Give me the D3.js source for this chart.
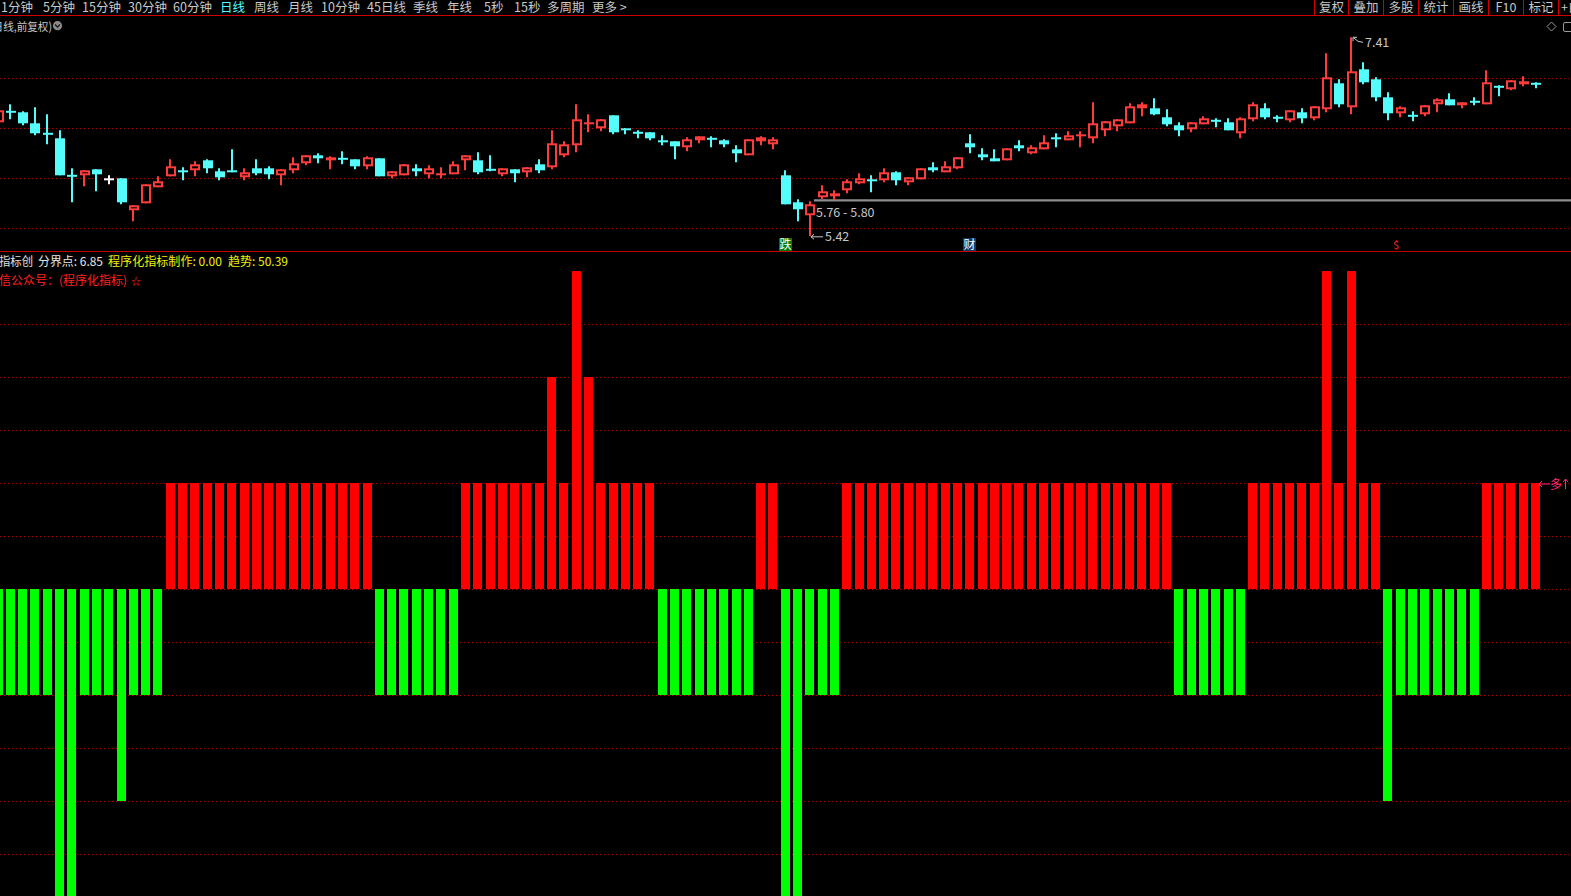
<!DOCTYPE html>
<html><head><meta charset="utf-8">
<script src="https://cdn.jsdelivr.net/npm/d3@7"></script>
<style>
html,body{margin:0;padding:0;background:#000;overflow:hidden}
svg{display:block}
text{font-family:"Noto Sans CJK SC","Noto Sans",sans-serif}
</style></head><body>
<svg id="c" width="1571" height="896"></svg>
<script>
// ---------- data ----------
const opens=[6.56,6.67,6.66,6.55,6.45,6.40,6.03,6.03,6.09,5.99,
6.00,5.68,5.75,5.91,6.02,6.08,6.08,6.18,6.07,6.08,
6.01,6.10,6.10,6.03,6.08,6.15,6.23,6.18,6.20,6.19,
6.12,6.20,6.02,6.03,6.10,6.04,6.03,6.04,6.18,6.18,
6.09,6.04,6.09,6.06,6.14,6.11,6.23,6.33,6.54,6.50,
6.63,6.50,6.46,6.46,6.38,6.37,6.31,6.38,6.40,6.38,
6.29,6.23,6.37,6.34,6.03,5.76,5.63,5.81,5.82,5.88,
5.95,5.99,5.98,6.06,5.96,5.99,6.11,6.06,6.10,6.35,
6.24,6.20,6.18,6.33,6.25,6.29,6.41,6.38,6.42,6.40,
6.48,6.52,6.55,6.70,6.70,6.61,6.53,6.49,6.54,6.58,
6.56,6.45,6.59,6.70,6.61,6.58,6.66,6.60,6.69,6.95,
6.71,7.09,6.99,6.81,6.65,6.63,6.64,6.74,6.79,6.73,
6.77,6.74,6.92,6.89,6.94,6.95];
const highs=[6.70,6.74,6.67,6.71,6.64,6.48,6.10,6.08,6.09,6.03,
6.00,5.73,5.94,6.02,6.19,6.11,6.17,6.19,6.10,6.29,
6.10,6.19,6.12,6.09,6.21,6.23,6.25,6.22,6.27,6.19,
6.22,6.20,6.07,6.14,6.14,6.13,6.11,6.17,6.23,6.26,
6.23,6.10,6.09,6.11,6.19,6.48,6.37,6.74,6.64,6.59,
6.63,6.50,6.48,6.46,6.43,6.37,6.41,6.42,6.42,6.39,
6.33,6.39,6.42,6.41,6.08,5.79,5.77,5.93,5.88,5.99,
6.05,6.03,6.10,6.07,6.01,6.10,6.16,6.17,6.21,6.44,
6.30,6.29,6.30,6.38,6.33,6.43,6.45,6.47,6.47,6.76,
6.57,6.59,6.75,6.76,6.80,6.69,6.56,6.56,6.62,6.60,
6.60,6.61,6.76,6.75,6.63,6.68,6.70,6.72,7.25,6.99,
7.41,7.16,7.01,6.86,6.72,6.67,6.73,6.80,6.85,6.76,
6.81,7.08,6.93,6.98,7.02,6.96];
const lows=[6.54,6.59,6.53,6.43,6.34,6.03,5.76,5.92,5.87,5.94,
5.74,5.57,5.75,5.91,6.02,5.98,6.02,6.05,5.98,6.06,
5.98,6.03,5.99,5.93,6.05,6.13,6.15,6.09,6.14,6.09,
6.09,6.02,6.00,6.03,6.02,6.00,6.00,6.04,6.08,6.04,
6.07,6.02,5.96,6.01,6.05,6.09,6.21,6.26,6.46,6.47,
6.44,6.44,6.40,6.38,6.33,6.19,6.27,6.35,6.31,6.31,
6.16,6.23,6.33,6.29,5.74,5.57,5.42,5.79,5.78,5.85,
5.94,5.86,5.96,5.93,5.93,5.99,6.06,6.06,6.09,6.25,
6.18,6.17,6.18,6.27,6.24,6.29,6.31,6.38,6.31,6.35,
6.42,6.47,6.55,6.62,6.63,6.52,6.42,6.46,6.54,6.51,
6.48,6.40,6.57,6.59,6.56,6.56,6.55,6.58,6.66,6.71,
6.64,6.94,6.77,6.58,6.61,6.57,6.62,6.66,6.73,6.70,
6.73,6.74,6.82,6.88,6.92,6.90];
const closes=[6.68,6.66,6.55,6.45,6.44,6.03,6.02,6.08,6.04,5.99,
5.76,5.73,5.94,5.97,6.12,6.06,6.14,6.10,6.01,6.06,
6.06,6.05,6.04,6.09,6.15,6.23,6.20,6.21,6.19,6.12,
6.21,6.02,6.07,6.14,6.07,6.10,6.05,6.14,6.23,6.06,
6.08,6.10,6.05,6.11,6.08,6.35,6.34,6.59,6.56,6.59,
6.46,6.48,6.45,6.40,6.36,6.32,6.39,6.42,6.39,6.34,
6.25,6.39,6.41,6.39,5.74,5.69,5.74,5.87,5.85,5.97,
6.00,5.97,6.06,5.98,6.01,6.10,6.08,6.12,6.21,6.31,
6.21,6.17,6.30,6.30,6.31,6.36,6.39,6.43,6.44,6.55,
6.57,6.59,6.72,6.74,6.64,6.54,6.48,6.56,6.60,6.57,
6.48,6.60,6.74,6.61,6.60,6.68,6.60,6.72,7.01,6.74,
7.07,6.96,6.81,6.65,6.71,6.62,6.73,6.79,6.73,6.76,
6.76,6.96,6.91,6.98,6.97,6.94];
const signal=[-1,-1,-1,-1,-1,-3,-3,-1,-1,-1,
-2,-1,-1,-1,1,1,1,1,1,1,
1,1,1,1,1,1,1,1,1,1,
1,-1,-1,-1,-1,-1,-1,-1,1,1,
1,1,1,1,1,2,1,3,2,1,
1,1,1,1,-1,-1,-1,-1,-1,-1,
-1,-1,1,1,-3,-3,-1,-1,-1,1,
1,1,1,1,1,1,1,1,1,1,
1,1,1,1,1,1,1,1,1,1,
1,1,1,1,1,1,-1,-1,-1,-1,
-1,-1,1,1,1,1,1,1,3,1,
3,1,1,-2,-1,-1,-1,-1,-1,-1,
-1,1,1,1,1,1];
const priceGrid=[5.5,6.0,6.5,7.0];
const signalGrid=[-2.5,-2,-1.5,-1,-0.5,0,0.5,1,1.5,2,2.5];
const menuLabels=["1分钟","5分钟","15分钟","30分钟","60分钟","日线","周线","月线","10分钟","45日线","季线","年线","5秒","15秒","多周期","更多 >"];
const activeMenu="日线";
const toolLabels=["复权","叠加","多股","统计","画线","F10","标记","+自"];
const titleText="(日线,前复权)";
const indName="指标创";
const indItems=[["分界点: ","6.85"],["程序化指标制作: ","0.00"],["趋势: ","50.39"]];
const noteText="信公众号：(程序化指标)";
const supportLow=5.76, supportHigh=5.80, supportLine=5.78;
const minIdx=66, maxIdx=110;
const eventMarks=[{i:64,t:"跌"},{i:79,t:"财"}];

// ---------- layout ----------
const W=1571,H=896;
const menuX=[1,43,82,128,173,220,254,288,321,367,413,447,484,514,547,592];
const toolSep=[1314,1348,1383,1418,1453,1488,1523,1558];
const indX=[38,108,228], indW=[65,114,60];
const RED="#ff3c3c",CYAN="#54fcfc",GRID="#b00000";

const svg=d3.select("#c");
svg.append("rect").attr("width",W).attr("height",H).attr("fill","#000");
const N=opens.length;
const x=d3.scaleLinear().domain([0,N-1]).range([-2,1535.5]);
const yP=d3.scaleLinear().domain([5.5,7.0]).range([228.3,78.3]);
const yI=d3.scaleLinear().domain([0,1]).range([589.3,483.3]);

// ---------- toolbar ----------
const tb=svg.append("g").attr("font-size",12.5);
tb.selectAll("text.m").data(menuLabels).join("text").attr("class","m")
 .attr("x",(d,i)=>menuX[i]).attr("y",12.2)
 .attr("fill",d=>d===activeMenu?CYAN:"#c8c8c8").text(d=>d);
tb.selectAll("line.s").data(toolSep).join("line").attr("class","s")
 .attr("x1",d=>d+0.5).attr("x2",d=>d+0.5).attr("y1",0).attr("y2",15)
 .attr("stroke","#d00000").attr("stroke-width",1);
tb.selectAll("text.t").data(toolLabels).join("text").attr("class","t")
 .attr("x",(d,i)=>i<toolSep.length-1?(toolSep[i]+toolSep[i+1])/2+0.5:toolSep[i]+3)
 .attr("text-anchor",(d,i)=>i<toolSep.length-1?"middle":"start")
 .attr("y",12.2).attr("fill","#c8c8c8").text(d=>d);
svg.append("line").attr("x1",0).attr("x2",W).attr("y1",15.5).attr("y2",15.5)
 .attr("stroke","#d00000").attr("stroke-width",1);

// title row
svg.append("text").attr("x",-11).attr("y",30.5)
 .attr("font-size",11.5).attr("fill","#c8c8c8")
 .attr("textLength",63).attr("lengthAdjust","spacingAndGlyphs").text(titleText);
svg.append("circle").attr("cx",57.5).attr("cy",25.7).attr("r",4.6).attr("fill","#8a8a8a");
svg.append("path").attr("d","M55,24.5 L57.5,27 L60,24.5").attr("fill","none").attr("stroke","#1a1a1a").attr("stroke-width",1.3);
svg.append("path").attr("d","M1551.5,22 L1556,26.5 L1551.5,31 L1547,26.5 Z").attr("fill","none").attr("stroke","#9a9a9a");
svg.append("rect").attr("x",1563.5).attr("y",22.5).attr("width",9).attr("height",9).attr("rx",1.5)
 .attr("fill","none").attr("stroke","#9a9a9a");

// ---------- grids ----------
svg.append("g").selectAll("line").data(priceGrid).join("line")
 .attr("x1",0).attr("x2",W).attr("y1",d=>Math.round(yP(d))+0.5).attr("y2",d=>Math.round(yP(d))+0.5)
 .attr("stroke",GRID).attr("stroke-dasharray","1,3");
svg.append("g").selectAll("line").data(signalGrid).join("line")
 .attr("x1",0).attr("x2",W).attr("y1",d=>Math.round(yI(d))+0.5).attr("y2",d=>Math.round(yI(d))+0.5)
 .attr("stroke",GRID).attr("stroke-dasharray","1,3");

// separator
svg.append("line").attr("x1",0).attr("x2",W).attr("y1",251.5).attr("y2",251.5)
 .attr("stroke","#c80000").attr("stroke-width",1);

// ---------- support line ----------
svg.append("line").attr("x1",Math.round(x(minIdx))+4).attr("x2",W)
 .attr("y1",yP(supportLine)).attr("y2",yP(supportLine))
 .attr("stroke","#8c8c8c").attr("stroke-width",2.2);

// ---------- candles ----------
const cdata=d3.range(N).map(i=>({i,o:opens[i],h:highs[i],l:lows[i],c:closes[i]}));
const cg=svg.append("g");
cdata.forEach(d=>{
  const col=d.c>d.o?RED:(d.c<d.o?CYAN:"#ffffff");
  const cx=Math.round(x(d.i));
  const bx=Math.round(x(d.i)-4.5);
  cg.append("line").attr("x1",cx).attr("x2",cx).attr("y1",yP(d.h)).attr("y2",yP(d.l))
    .attr("stroke",col).attr("stroke-width",2);
  const top=yP(Math.max(d.o,d.c)), bot=yP(Math.min(d.o,d.c));
  const hgt=bot-top;
  if(d.c>d.o && hgt>4){
    cg.append("rect").attr("x",bx+1).attr("y",top+1).attr("width",8).attr("height",hgt-2)
      .attr("fill","#000").attr("stroke",col).attr("stroke-width",2);
  } else {
    const hh=Math.max(2,hgt);
    cg.append("rect").attr("x",bx).attr("y",hgt<2?(top+bot)/2-1:top).attr("width",10).attr("height",hh)
      .attr("fill",col);
  }
});

// ---------- price annotations ----------
const ann=svg.append("g").attr("fill","#c8c8c8").attr("font-size",12.5);
ann.append("text").attr("x",Math.round(x(minIdx))+6).attr("y",yP(supportLine)+16.5)
 .text(supportLow.toFixed(2)+" - "+supportHigh.toFixed(2));
const mx=Math.round(x(minIdx))+1, my=yP(lows[minIdx]);
ann.append("path").attr("d",`M${mx+12},${my+0.5} L${mx},${my+0.5} M${mx+3},${my-2} L${mx},${my+0.5} L${mx+3},${my+3}`)
 .attr("stroke","#c8c8c8").attr("fill","none");
ann.append("text").attr("x",mx+14).attr("y",my+5).text(lows[minIdx].toFixed(2));
const hx=Math.round(x(maxIdx))+1, hy=yP(highs[maxIdx]);
ann.append("path").attr("d",`M${hx+1},${hy} L${hx+1},${hy+4} M${hx+1},${hy} L${hx+5},${hy} M${hx+1},${hy} L${hx+6},${hy+4} L${hx+11},${hy+5}`)
 .attr("stroke","#c8c8c8").attr("fill","none");
ann.append("text").attr("x",hx+13).attr("y",hy+10).text(highs[maxIdx].toFixed(2));

// event markers
eventMarks.forEach(e=>{
  const ex=x(e.i);
  svg.append("rect").attr("x",Math.round(ex-6.5)).attr("y",238).attr("width",13).attr("height",13)
   .attr("fill",e.t==="跌"?"#007a00":"#0b3c6e");
  svg.append("text").attr("x",Math.round(ex-6.5)+6.5).attr("y",249).attr("text-anchor","middle")
   .attr("font-size",12).attr("fill","#ffffff").text(e.t);
});
svg.append("text").attr("x",1396).attr("y",249).attr("text-anchor","middle").attr("font-size",11)
 .attr("fill","#ff2020").text("$");

// ---------- indicator header ----------
const ih=svg.append("g").attr("font-size",12);
ih.append("text").attr("x",-1).attr("y",266).attr("fill","#e0e0e0")
 .attr("textLength",34).attr("lengthAdjust","spacingAndGlyphs").text(indName);
indItems.forEach((it,k)=>{
  ih.append("text").attr("x",indX[k]).attr("y",266).attr("fill",k===0?"#e6e6e6":"#f0f000")
   .attr("textLength",indW[k]).attr("lengthAdjust","spacingAndGlyphs").text(it[0]+it[1]);
});
ih.append("text").attr("x",-1).attr("y",285).attr("fill","#ff2020")
 .attr("textLength",128).attr("lengthAdjust","spacingAndGlyphs").text(noteText);
ih.append("text").attr("x",131).attr("y",284.5).attr("font-size",10).attr("fill","#ff2020").text("☆");

// ---------- indicator bars ----------
const y0=Math.round(yI(0));
svg.append("g").selectAll("rect").data(signal).join("rect")
 .attr("x",(d,i)=>Math.round(x(i)-4.5)).attr("width",9)
 .attr("y",d=>d>0?Math.round(yI(d)):y0)
 .attr("height",d=>Math.abs(Math.round(yI(d))-y0))
 .attr("fill",d=>d>0?"#ff0000":"#00ff00");

// right marker
const rm=svg.append("g");
const ry=Math.round(yI(1))+1;
rm.append("path").attr("d",`M1550,${ry} L1539,${ry} M1542,${ry-3} L1539,${ry} L1542,${ry+3}`)
 .attr("stroke","#ff2a7a").attr("fill","none");
rm.append("text").attr("x",1550).attr("y",ry+5).attr("font-size",12).attr("fill","#ff2a7a").text("多");
rm.append("path").attr("d",`M1565.5,${ry+5} L1565.5,${ry-5} M1563,${ry-2} L1565.5,${ry-5} L1568,${ry-2}`)
 .attr("stroke","#ff2a7a").attr("fill","none");
</script>
</body></html>
